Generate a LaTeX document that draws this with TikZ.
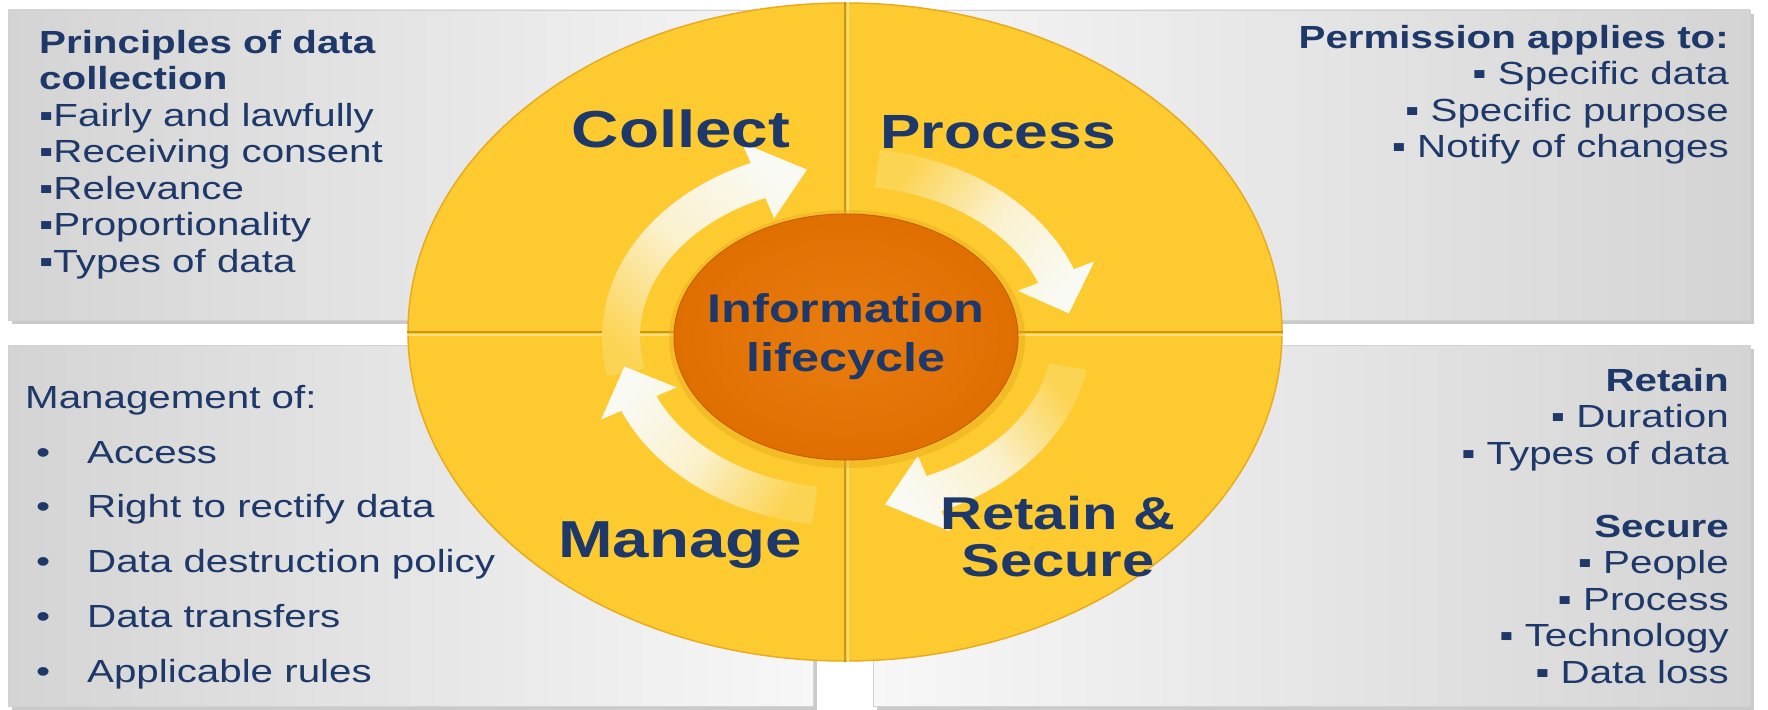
\documentclass[tikz,border=0pt]{standalone}
\usepackage{fontspec}
\setmainfont{Liberation Sans}[FakeStretch=1.26]
\usepackage{tikz}
\usetikzlibrary{shapes.geometric}
\usetikzlibrary{shadows}

\definecolor{navy}{RGB}{30,57,105}
\definecolor{ringyellow}{RGB}{253,202,48}
\definecolor{ringedge}{RGB}{232,172,30}
\definecolor{splitdark}{RGB}{200,150,25}
\definecolor{splitlight}{RGB}{255,224,125}
\definecolor{lifeorange}{RGB}{224,111,2}
\definecolor{lifelight}{RGB}{234,124,14}
\definecolor{lifedark}{RGB}{200,95,0}
\definecolor{boxgray}{RGB}{212,212,212}
\definecolor{boxwhite}{RGB}{247,247,247}
\definecolor{arrowwhite}{RGB}{250,250,244}
\definecolor{arrowtail}{RGB}{252,212,84}

\begin{document}
\begin{tikzpicture}
[every node/.style={inner sep=0pt},
 infobox/.style={rectangle, draw=gray!35, line width=0.8pt, drop shadow={shadow xshift=4pt, shadow yshift=-4pt, opacity=0.6, fill=gray!70}},
 boxtext/.style={text=navy, font=\fontsize{32pt}{36.5pt}\selectfont},
 phaselabel/.style={text=navy, font=\bfseries\fontsize{52pt}{56pt}\selectfont},
 cyclearrow/.style={top color=arrowwhite, bottom color=arrowtail, middle color=arrowwhite!75!arrowtail}]
\useasboundingbox (0pt,0pt) rectangle (1768pt,-709pt);
\node (tlbox) [infobox, minimum width=837pt, minimum height=310pt, left color=boxgray, right color=boxwhite] at (426.5pt, -165pt) {};
\node (trbox) [infobox, minimum width=905pt, minimum height=310pt, left color=boxwhite, right color=boxgray] at (1297.5pt, -165pt) {};
\node (blbox) [infobox, minimum width=805pt, minimum height=361pt, left color=boxgray, right color=boxwhite] at (410.5pt, -525.5pt) {};
\node (brbox) [infobox, minimum width=877pt, minimum height=361pt, left color=boxwhite, right color=boxgray] at (1311.5pt, -525.5pt) {};
\node (ring) [ellipse, minimum width=874pt, minimum height=658pt, fill=ringyellow, draw=ringedge, line width=1.5pt] at (845pt, -332pt) {};
\draw [line width=2.5pt, color=splitdark] (ring.north) -- (ring.south);
\draw [line width=2.5pt, color=splitdark] (ring.west) -- (ring.east);
\draw [line width=2pt, color=splitlight] ([xshift=3pt]ring.north) -- ([xshift=3pt]ring.south);
\draw [line width=2pt, color=splitlight] ([yshift=-3pt]ring.west) -- ([yshift=-3pt]ring.east);
\coordinate (hub) at (846pt, -337pt);
\shade [cyclearrow, shading angle=-42] ([shift={(hub)}]192:244pt and 189pt) arc [start angle=192, end angle=113, x radius=244pt, y radius=189pt] -- ([shift={(hub)}]113:266pt and 211pt) -- ([shift={(hub)}]100:225pt and 170pt) -- ([shift={(hub)}]113:184pt and 129pt) -- ([shift={(hub)}]113:206pt and 151pt) arc [start angle=113, end angle=192, x radius=206pt, y radius=151pt] -- cycle;
\shade [cyclearrow, shading angle=-127] ([shift={(hub)}]82:244pt and 189pt) arc [start angle=82, end angle=21, x radius=244pt, y radius=189pt] -- ([shift={(hub)}]21:266pt and 211pt) -- ([shift={(hub)}]8:225pt and 170pt) -- ([shift={(hub)}]21:184pt and 129pt) -- ([shift={(hub)}]21:206pt and 151pt) arc [start angle=21, end angle=82, x radius=206pt, y radius=151pt] -- cycle;
\shade [cyclearrow, shading angle=127] ([shift={(hub)}]-10:244pt and 189pt) arc [start angle=-10, end angle=-67, x radius=244pt, y radius=189pt] -- ([shift={(hub)}]-67:266pt and 211pt) -- ([shift={(hub)}]-80:225pt and 170pt) -- ([shift={(hub)}]-67:184pt and 129pt) -- ([shift={(hub)}]-67:206pt and 151pt) arc [start angle=-67, end angle=-10, x radius=206pt, y radius=151pt] -- cycle;
\shade [cyclearrow, shading angle=54] ([shift={(hub)}]262:244pt and 189pt) arc [start angle=262, end angle=203, x radius=244pt, y radius=189pt] -- ([shift={(hub)}]203:266pt and 211pt) -- ([shift={(hub)}]190:225pt and 170pt) -- ([shift={(hub)}]203:184pt and 129pt) -- ([shift={(hub)}]203:206pt and 151pt) arc [start angle=203, end angle=262, x radius=206pt, y radius=151pt] -- cycle;
\fill [color=ringedge, opacity=0.45] (847pt, -339pt) ellipse [x radius=178pt, y radius=129pt];
\node (life) [ellipse, minimum width=344pt, minimum height=246pt, inner color=lifelight, outer color=lifeorange, draw=lifedark, line width=1pt] at (hub) {};
\node (lifetext) [align=center, text=navy, font=\bfseries\fontsize{40pt}{49pt}\selectfont] at (life) {Information\\lifecycle};
\node (collect) [phaselabel, anchor=base] at (681pt, -147pt) {Collect};
\node (process) [phaselabel, anchor=base, font=\bfseries\fontsize{48pt}{52pt}\selectfont] at (998pt, -148pt) {Process};
\node (manage) [phaselabel, anchor=base] at (680pt, -557pt) {Manage};
\node (retain) [phaselabel, anchor=north, align=center, font=\bfseries\fontsize{46pt}{47pt}\selectfont] at (1058pt, -496pt) {Retain \&\\Secure};
\node (collectnotes) [boxtext, anchor=north west, align=left] at (39pt, -30pt) {\textbf{Principles of data}\\\textbf{collection}\\▪Fairly and lawfully\\▪Receiving consent\\▪Relevance\\▪Proportionality\\▪Types of data};
\node (processnotes) [boxtext, anchor=north east, align=right] at (1729pt, -25pt) {\textbf{Permission applies to:}\\▪ Specific data\\▪ Specific purpose\\▪ Notify of changes};
\node (managenotes) [boxtext, anchor=north west, align=left, font=\fontsize{32pt}{54.8pt}\selectfont] at (25pt, -385pt) {Management of:\\\hspace*{11pt}\makebox[51pt][l]{•}Access\\\hspace*{11pt}\makebox[51pt][l]{•}Right to rectify data\\\hspace*{11pt}\makebox[51pt][l]{•}Data destruction policy\\\hspace*{11pt}\makebox[51pt][l]{•}Data transfers\\\hspace*{11pt}\makebox[51pt][l]{•}Applicable rules};
\node (retainnotes) [boxtext, anchor=north east, align=right] at (1729pt, -368pt) {\textbf{Retain}\\▪ Duration\\▪ Types of data\\[36.5pt]\textbf{Secure}\\▪ People\\▪ Process\\▪ Technology\\▪ Data loss};
\end{tikzpicture}
\end{document}
